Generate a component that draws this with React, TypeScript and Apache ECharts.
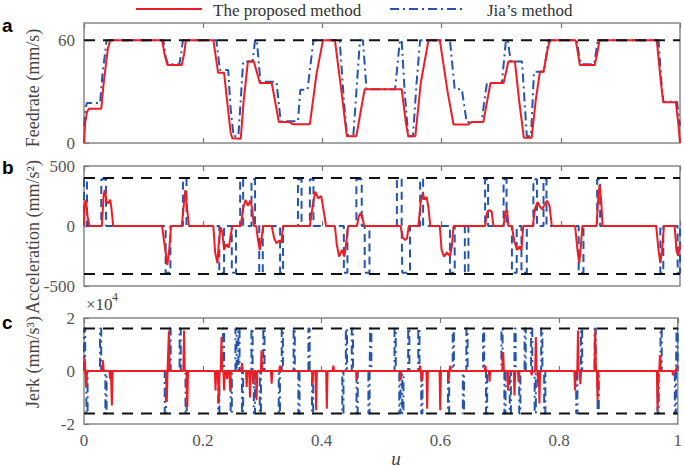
import React, { useEffect, useRef } from "react";
import * as echarts from "echarts";

// ---------- data ----------
const xTicks = [0, 0.2, 0.4, 0.6, 0.8, 1];
const feedTicks = [0, 60];
const accTicks = [-500, 0, 500];
const jerkTicks = [-2, 0, 2];
const feedLimit = 60;
const accLimit = 400;
const jerkLimit = 1.6;

// feedrate (mm/s) vs u
const feedProposed: number[][] = [
  [0, 0], [0.002, 12], [0.005, 18], [0.008, 20], [0.029, 20], [0.033, 35], [0.04, 55], [0.044, 60],
  [0.131, 60], [0.135, 52], [0.14, 45.5], [0.164, 45.5], [0.168, 52], [0.171, 60],
  [0.217, 60], [0.225, 41], [0.235, 41], [0.24, 25], [0.246, 6], [0.249, 2.7], [0.263, 2.5], [0.268, 25],
  [0.275, 47.5], [0.285, 47.5], [0.295, 35], [0.315, 35], [0.327, 12.2], [0.345, 12.2], [0.35, 11],
  [0.379, 11], [0.39, 40], [0.401, 60], [0.421, 60], [0.432, 30], [0.441, 4], [0.457, 4], [0.465, 20],
  [0.471, 31.4], [0.533, 31.4], [0.54, 12], [0.544, 4], [0.556, 4], [0.565, 35], [0.578, 60], [0.597, 60],
  [0.61, 30], [0.62, 10.8], [0.645, 10.8], [0.65, 12.2], [0.67, 12.2], [0.682, 35], [0.704, 35],
  [0.712, 47.5], [0.723, 47.5], [0.73, 25], [0.738, 3], [0.751, 3], [0.758, 25], [0.765, 41.7],
  [0.771, 41.7], [0.778, 55], [0.782, 60], [0.825, 60], [0.829, 52], [0.832, 45.5], [0.857, 45.5],
  [0.861, 52], [0.865, 60], [0.961, 60], [0.968, 35], [0.972, 23.7], [0.993, 23.7], [0.997, 12], [1, 0],
];
const feedJia: number[][] = [
  [0, 10], [0.003, 21], [0.005, 23.3], [0.027, 23.3], [0.031, 40], [0.038, 60], [0.133, 60], [0.137, 50],
  [0.141, 46], [0.16, 46], [0.163, 52], [0.166, 60], [0.222, 60], [0.228, 42.6], [0.242, 42.6], [0.246, 20],
  [0.251, 4], [0.259, 4], [0.263, 25], [0.267, 47.5], [0.283, 47.5], [0.287, 60], [0.29, 60], [0.296, 35.7],
  [0.323, 35.7], [0.33, 12.7], [0.359, 12.7], [0.363, 31], [0.375, 31], [0.385, 60], [0.429, 60],
  [0.436, 25], [0.441, 4.6], [0.452, 4.6], [0.458, 35], [0.463, 60], [0.468, 60], [0.474, 31.4],
  [0.522, 31.4], [0.53, 60], [0.533, 60], [0.538, 30], [0.544, 4], [0.552, 4], [0.558, 35], [0.564, 60],
  [0.614, 60], [0.622, 31.4], [0.634, 31.4], [0.642, 12.2], [0.667, 12.2], [0.676, 35], [0.701, 35],
  [0.708, 60], [0.711, 60], [0.716, 47.5], [0.735, 47.5], [0.74, 20], [0.743, 4], [0.75, 4], [0.755, 41.5],
  [0.772, 41.5], [0.779, 60], [0.827, 60], [0.831, 50], [0.834, 46], [0.856, 46], [0.86, 55], [0.862, 60],
  [0.964, 60], [0.969, 35], [0.972, 24], [0.995, 24], [1, 10],
];

// acceleration (mm/s^2)
const accProposed: number[][] = [
  [0, 0], [0.001, 180], [0.003, 217], [0.006, 80], [0.009, 0],
  [0.03, 0], [0.033, 260], [0.035, 300], [0.038, 200], [0.041, 190], [0.044, 220], [0.046, 150], [0.049, 0],
  [0.131, 0], [0.135, -150], [0.14, -325], [0.143, -200], [0.146, 0],
  [0.164, 0], [0.167, 150], [0.17, 300], [0.173, 150], [0.176, 0],
  [0.217, 0], [0.22, -220], [0.224, -310], [0.226, -150], [0.229, -10], [0.232, -50], [0.235, -200],
  [0.239, -150], [0.243, -180], [0.246, -80], [0.249, 0],
  [0.263, 0], [0.267, 150], [0.271, 217], [0.275, 170], [0.279, 210], [0.282, 150], [0.285, 0],
  [0.289, 0], [0.292, -120], [0.295, -200], [0.298, -100], [0.301, 0],
  [0.315, 0], [0.319, -100], [0.323, -145], [0.328, -120], [0.331, -140], [0.334, 0],
  [0.379, 0], [0.384, 180], [0.388, 286], [0.393, 230], [0.398, 250], [0.403, 100], [0.406, 0],
  [0.421, 0], [0.424, -150], [0.428, -255], [0.433, -200], [0.437, -255], [0.441, -100], [0.443, 0],
  [0.458, 0], [0.461, 80], [0.464, 106], [0.467, 80], [0.47, 0],
  [0.531, 0], [0.535, -100], [0.539, -117], [0.542, -100], [0.545, 0],
  [0.561, 0], [0.565, 200], [0.568, 272], [0.572, 220], [0.575, 240], [0.578, 150], [0.581, 0],
  [0.597, 0], [0.6, -200], [0.604, -256], [0.609, -220], [0.614, -250], [0.617, -180], [0.62, 0],
  [0.673, 0], [0.676, 110], [0.68, 133], [0.684, 120], [0.687, 0],
  [0.704, 0], [0.707, 120], [0.71, 133], [0.712, 0],
  [0.718, 0], [0.722, -130], [0.727, -200], [0.731, -170], [0.734, -200], [0.737, 0],
  [0.753, 0], [0.757, 150], [0.761, 200], [0.765, 160], [0.769, 140], [0.773, 180], [0.777, 210],
  [0.781, 170], [0.785, 0],
  [0.824, 0], [0.828, -200], [0.831, -310], [0.834, -150], [0.836, 0],
  [0.86, 0], [0.863, 250], [0.865, 340], [0.868, 200], [0.87, 0],
  [0.96, 0], [0.964, -200], [0.967, -310], [0.97, -200], [0.973, 0],
  [0.991, 0], [0.994, -200], [0.997, -250], [1, -150],
];
// Jia's acceleration: [start u, end u, level]
const accJiaPulses: number[][] = [
  [0.0, 0.005, 390], [0.029, 0.037, 390], [0.137, 0.145, -390], [0.166, 0.172, 390],
  [0.227, 0.235, -390], [0.248, 0.255, -390], [0.262, 0.267, 390], [0.281, 0.287, 390],
  [0.294, 0.3, -390], [0.329, 0.334, -390], [0.359, 0.365, 390], [0.379, 0.385, 390],
  [0.436, 0.442, -390], [0.457, 0.466, 390], [0.471, 0.479, -390], [0.525, 0.533, 390],
  [0.534, 0.547, -390], [0.564, 0.569, 390], [0.614, 0.622, -390], [0.639, 0.645, -390],
  [0.673, 0.678, 390], [0.704, 0.709, 390], [0.718, 0.726, -390], [0.734, 0.743, -390],
  [0.754, 0.76, 390], [0.771, 0.776, 390], [0.83, 0.838, -390], [0.861, 0.866, 390],
  [0.967, 0.972, -390], [0.996, 1.0, -390],
];

// jerk (x10^4 mm/s^3)
const jerkProposedSpikes: number[][] = [
  [0.001, 0.5], [0.004, -0.6], [0.032, 0.4], [0.044, -0.3], [0.047, -1.3], [0.1395, -1.17], [0.143, 1.53],
  [0.1685, 1.53], [0.174, -1.36], [0.2215, -0.73], [0.227, -1.23], [0.2315, 1.28], [0.236, -0.73],
  [0.241, -0.3], [0.246, -0.73], [0.266, 0.3], [0.274, -0.6], [0.2795, -1.0], [0.285, -0.5],
  [0.2907, -1.1], [0.299, 0.78], [0.316, -0.48], [0.33, 0.2], [0.385, -0.48], [0.391, -1.48],
  [0.409, -1.42], [0.42, 0.2], [0.4595, -0.35], [0.533, -0.35], [0.566, 0.2], [0.569, -0.4],
  [0.578, -1.42], [0.6, -1.48], [0.614, -0.41], [0.617, 0.2], [0.676, 0.2], [0.683, -0.4], [0.706, 0.72],
  [0.714, -0.73], [0.725, -0.92], [0.732, -0.41], [0.754, -0.16], [0.761, 1.28], [0.765, -0.6],
  [0.767, -1.23], [0.827, -0.73], [0.832, 1.53], [0.836, -0.5], [0.861, 1.53], [0.865, -1.1],
  [0.966, -1.48], [0.97, 0.6], [0.992, -0.16], [0.998, 0.15],
];
// Jia's jerk: [start u, end u, level]
const jerkJiaPulses: number[][] = [
  [0.0, 0.002, 1.6], [0.004, 0.006, -1.6], [0.027, 0.029, 1.6], [0.036, 0.038, -1.6],
  [0.136, 0.138, -1.6], [0.144, 0.146, 1.6], [0.161, 0.163, 1.6], [0.171, 0.173, -1.6],
  [0.226, 0.228, -1.6], [0.234, 0.236, 1.6], [0.247, 0.249, -1.6], [0.255, 0.257, 1.6],
  [0.26, 0.262, 1.6], [0.266, 0.268, -1.6], [0.282, 0.284, 1.6], [0.286, 0.288, -1.6],
  [0.296, 0.298, -1.6], [0.302, 0.304, 1.6], [0.328, 0.33, -1.6], [0.333, 0.335, 1.6],
  [0.353, 0.355, 1.6], [0.361, 0.363, -1.6], [0.378, 0.38, 1.6], [0.384, 0.386, -1.6],
  [0.435, 0.437, -1.6], [0.441, 0.443, 1.6], [0.451, 0.453, 1.6], [0.459, 0.461, -1.6],
  [0.479, 0.481, -1.6], [0.482, 0.484, 1.6], [0.523, 0.525, 1.6], [0.531, 0.533, -1.6],
  [0.536, 0.538, -1.6], [0.546, 0.548, 1.6], [0.563, 0.565, 1.6], [0.568, 0.57, -1.6],
  [0.613, 0.615, -1.6], [0.621, 0.623, 1.6], [0.638, 0.64, -1.6], [0.644, 0.646, 1.6],
  [0.672, 0.674, 1.6], [0.677, 0.679, -1.6], [0.703, 0.705, 1.6], [0.708, 0.71, -1.6],
  [0.717, 0.719, -1.6], [0.725, 0.727, 1.6], [0.733, 0.735, -1.6], [0.742, 0.744, 1.6],
  [0.753, 0.755, 1.6], [0.759, 0.761, -1.6], [0.77, 0.772, 1.6], [0.775, 0.777, -1.6],
  [0.829, 0.831, -1.6], [0.837, 0.839, 1.6], [0.86, 0.862, 1.6], [0.865, 0.867, -1.6],
  [0.966, 0.968, -1.6], [0.971, 0.973, 1.6], [0.995, 0.997, -1.6], [0.998, 1.0, 1.6],
];

// ---------- helpers building series data from the arrays ----------
function pulsesToStep(p: number[][]): number[][] {
  const out: number[][] = [[0, 0]];
  for (const [s, e, v] of p) {
    out.push([s, 0], [s, v], [e, v], [e, 0]);
  }
  out.push([1, 0]);
  return out;
}
function spikesToLine(sp: number[][], w: number): number[][] {
  const out: number[][] = [[0, 0]];
  for (const [x, v] of sp) {
    out.push([Math.max(0, x - w), 0], [x, v], [Math.min(1, x + w), 0]);
  }
  out.push([1, 0]);
  return out;
}

const RED = "#ee1d25";
const BLUE = "#2454ad";
const FONT = "Liberation Serif";
const GRID_LEFT = 84;
const GRID_RIGHT = 5;
const grids = [
  { top: 23, height: 120 },
  { top: 166, height: 120 },
  { top: 318, height: 106 },
];

export default function App() {
  const ref = useRef<HTMLDivElement>(null);
  useEffect(() => {
    document.body.style.margin = "0";
    if (!ref.current) return;
    const chart = echarts.init(ref.current, undefined, { renderer: "svg" });

    const xAxes: any[] = [];
    const yAxes: any[] = [];
    grids.forEach((_, i) => {
      xAxes.push({
        type: "value", gridIndex: i, min: 0, max: 1, interval: 0.2, position: "bottom",
        axisLine: { show: false },
        axisTick: { show: true, inside: true, length: 5, lineStyle: { color: "#777", width: 1.2 } },
        axisLabel: {
          show: i === 2, color: "#555", fontFamily: FONT, fontSize: 17, margin: 8,
          formatter: (v: number) => (xTicks.includes(v) ? String(v) : ""),
        },
        splitLine: { show: false },
      });
      xAxes.push({
        type: "value", gridIndex: i, min: 0, max: 1, interval: 0.2, position: "top",
        axisLine: { show: false },
        axisTick: { show: true, inside: true, length: 5, lineStyle: { color: "#777", width: 1.2 } },
        axisLabel: { show: false }, splitLine: { show: false },
      });
    });
    const yCfg = [
      { min: 0, max: 70, interval: 60, ticks: feedTicks },
      { min: -500, max: 500, interval: 500, ticks: accTicks },
      { min: -2, max: 2, interval: 2, ticks: jerkTicks },
    ];
    yCfg.forEach((c, i) => {
      yAxes.push({
        type: "value", gridIndex: i, min: c.min, max: c.max, interval: c.interval,
        axisLine: { show: false },
        axisTick: {
          show: true, inside: true, length: 5, lineStyle: { color: "#777", width: 1.2 },
          customValues: c.ticks,
        },
        axisLabel: {
          color: "#555", fontFamily: FONT, fontSize: 17, margin: 9,
          customValues: c.ticks,
          formatter: (v: number) => (c.ticks.includes(v) ? String(v) : ""),
        },
        splitLine: { show: false },
      });
    });

    const line = (data: number[][], xi: number, yi: number, color: string, type: any, width = 2, z = 2) => ({
      type: "line", data, xAxisIndex: xi, yAxisIndex: yi, showSymbol: false, symbol: "none",
      lineStyle: { color, width, type }, z, silent: true,
    });
    const dashDot = [9, 4, 2, 4];
    const dash = [11, 8];

    const series: any[] = [
      line(feedJia, 0, 0, BLUE, dashDot, 2, 2),
      line(feedProposed, 0, 0, RED, "solid", 2, 3),
      line([[0, feedLimit], [1, feedLimit]], 0, 0, "#111", dash, 2, 4),
      line(pulsesToStep(accJiaPulses), 2, 1, BLUE, [8, 5], 2, 2),
      line(accProposed, 2, 1, RED, "solid", 2, 3),
      line([[0, accLimit], [1, accLimit]], 2, 1, "#111", dash, 2, 4),
      line([[0, -accLimit], [1, -accLimit]], 2, 1, "#111", dash, 2, 4),
      line(pulsesToStep(jerkJiaPulses), 4, 2, BLUE, dashDot, 2, 2),
      line(spikesToLine(jerkProposedSpikes, 0.0012), 4, 2, RED, "solid", 2, 3),
      line([[0, jerkLimit], [1, jerkLimit]], 4, 2, "#111", dash, 2, 4),
      line([[0, -jerkLimit], [1, -jerkLimit]], 4, 2, "#111", dash, 2, 4),
    ];

    const yLabel = (text: string, x: number, y: number) => ({
      type: "text", x, y, rotation: Math.PI / 2,
      style: { text, fill: "#444", font: `18px "${FONT}"`, align: "center", verticalAlign: "middle" },
    });
    const panelLetter = (text: string, x: number, y: number) => ({
      type: "text", x, y,
      style: { text, fill: "#000", font: `bold 19px "Liberation Sans"`, align: "left", verticalAlign: "middle" },
    });

    chart.setOption({
      animation: false,
      grid: grids.map((g) => ({
        left: GRID_LEFT, right: GRID_RIGHT, top: g.top, height: g.height,
        show: true, borderColor: "#888", borderWidth: 1.5, backgroundColor: "transparent",
      })),
      xAxis: xAxes,
      yAxis: yAxes,
      series,
      graphic: [
        { type: "line", shape: { x1: 136, y1: 9, x2: 202, y2: 9 }, style: { stroke: RED, lineWidth: 2 } },
        { type: "text", x: 213, y: 10, style: { text: "The proposed method", fill: "#333", font: `17px "${FONT}"`, align: "left", verticalAlign: "middle" } },
        { type: "line", shape: { x1: 390, y1: 9, x2: 463, y2: 9 }, style: { stroke: BLUE, lineWidth: 2, lineDash: dashDot } },
        { type: "text", x: 487, y: 10, style: { text: "Jia\u2019s method", fill: "#333", font: `17px "${FONT}"`, align: "left", verticalAlign: "middle" } },
        panelLetter("a", 2, 25),
        panelLetter("b", 2, 167),
        panelLetter("c", 2, 322),
        yLabel("Feedrate (mm/s)", 33, 88),
        yLabel("Acceleration (mm/s\u00b2)", 33, 237),
        yLabel("Jerk (mm/s\u00b3)", 33, 362),
        { type: "text", x: 86, y: 304, style: { text: "\u00d710", fill: "#444", font: `17px "${FONT}"`, align: "left", verticalAlign: "middle" } },
        { type: "text", x: 112, y: 297, style: { text: "4", fill: "#444", font: `12px "${FONT}"`, align: "left", verticalAlign: "middle" } },
        { type: "text", x: 396, y: 458, style: { text: "u", fill: "#444", font: `italic 19px "${FONT}"`, align: "center", verticalAlign: "middle" } },
      ],
    });
    return () => chart.dispose();
  }, []);
  return <div ref={ref} style={{ width: 685, height: 467 }} />;
}
